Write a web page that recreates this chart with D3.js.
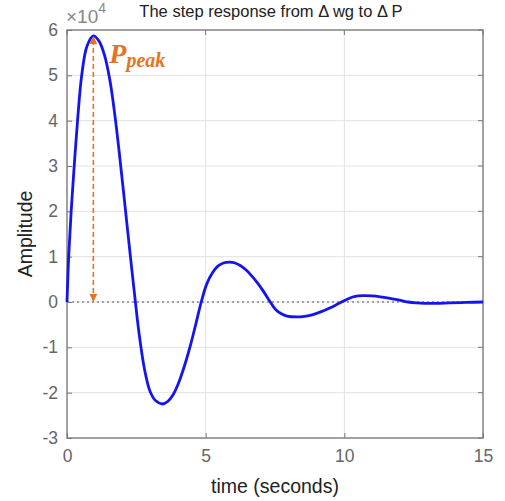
<!DOCTYPE html>
<html>
<head>
<meta charset="utf-8">
<script src="https://cdn.jsdelivr.net/npm/d3@7"></script>
<style>
  html, body { margin: 0; padding: 0; background: #fff; }
  svg { display: block; }
</style>
</head>
<body>
<svg id="chart" width="505" height="501"></svg>
<script>
// ---- data (amplitude in units of 1e4) ----
const timeValues = [0, 0.06, 0.15, 0.26, 0.38, 0.53, 0.72, 0.95, 1.15, 1.35, 1.55, 1.72, 1.88, 2.04, 2.22, 2.43, 2.6, 2.8, 3.0, 3.2, 3.44, 3.64, 3.84, 4.04, 4.24, 4.44, 4.64, 4.84, 5.04, 5.24, 5.44, 5.64, 5.86, 6.06, 6.26, 6.46, 6.66, 6.86, 7.06, 7.33, 7.53, 7.73, 7.93, 8.27, 8.57, 8.87, 9.17, 9.47, 9.77, 9.9, 10.1, 10.3, 10.5, 10.7, 11.0, 11.3, 11.6, 11.9, 12.1, 12.3, 12.6, 12.9, 13.3, 13.8, 14.4, 15];
const amplitudeValues = [0, 1.0, 2.0, 3.0, 4.0, 5.0, 5.64, 5.87, 5.76, 5.45, 4.88, 4.15, 3.32, 2.42, 1.38, 0.2, -0.7, -1.5, -1.98, -2.18, -2.25, -2.19, -2.03, -1.76, -1.4, -0.98, -0.5, 0, 0.4, 0.64, 0.79, 0.86, 0.88, 0.86, 0.8, 0.705, 0.577, 0.427, 0.257, 0, -0.17, -0.26, -0.31, -0.33, -0.316, -0.277, -0.213, -0.134, -0.041, 0, 0.06, 0.11, 0.135, 0.14, 0.135, 0.115, 0.085, 0.05, 0.025, 0, -0.02, -0.03, -0.03, -0.02, -0.01, 0];
const xTicks = [0, 5, 10, 15];
const yTicks = [-3, -2, -1, 0, 1, 2, 3, 4, 5, 6];
const peakTime = 0.95;
const peakValue = 5.87;
const titleText = "The step response from \u0394 wg to \u0394 P";
const xLabelText = "time (seconds)";
const yLabelText = "Amplitude";

// ---- layout ----
const svg = d3.select("#chart");
const L = 67, R = 483, T = 30, B = 438;
const x = d3.scaleLinear().domain([0, 15]).range([L, R]);
const y = d3.scaleLinear().domain([-3, 6]).range([B, T]);

const defs = svg.append("defs");
function arrowMarker(id, orient) {
  defs.append("marker")
    .attr("id", id).attr("viewBox", "0 0 10 10")
    .attr("refX", 9).attr("refY", 5)
    .attr("markerWidth", 8).attr("markerHeight", 8)
    .attr("markerUnits", "userSpaceOnUse")
    .attr("orient", orient)
    .append("path").attr("d", "M0,0 L10,5 L0,10 z").attr("fill", "#E8731F");
}
arrowMarker("arrowEnd", "auto");
arrowMarker("arrowStart", "auto-start-reverse");

// grid
const grid = svg.append("g");
grid.selectAll(".gx").data(xTicks.slice(1, -1)).join("line")
  .attr("x1", d => x(d)).attr("x2", d => x(d)).attr("y1", T).attr("y2", B)
  .attr("stroke", "#e3e3e3").attr("stroke-width", 1);
grid.selectAll(".gy").data(yTicks.slice(1, -1)).join("line")
  .attr("y1", d => y(d)).attr("y2", d => y(d)).attr("x1", L).attr("x2", R)
  .attr("stroke", "#e3e3e3").attr("stroke-width", 1);

// zero dotted line
svg.append("line")
  .attr("x1", L).attr("x2", R).attr("y1", y(0)).attr("y2", y(0))
  .attr("stroke", "#555").attr("stroke-width", 1.2).attr("stroke-dasharray", "2,3");

// axes (ticks inward)
const fontTick = "'Liberation Sans', Arial, sans-serif";
const fmt = d => String(d);
const xAxis = d3.axisBottom(x).tickValues(xTicks).tickSize(-5).tickPadding(12).tickFormat(fmt);
const yAxis = d3.axisLeft(y).tickValues(yTicks).tickSize(-5).tickPadding(9).tickFormat(fmt);
const gx = svg.append("g").attr("transform", `translate(0,${B})`).call(xAxis);
const gy = svg.append("g").attr("transform", `translate(${L},0)`).call(yAxis);
[gx, gy].forEach(g => {
  g.select(".domain").remove();
  g.selectAll(".tick line").attr("stroke", "#777");
  g.selectAll(".tick text").attr("fill", "#666").style("font-family", fontTick).style("font-size", "17.5px");
});
// top/right ticks
svg.append("g").selectAll("line").data(xTicks).join("line")
  .attr("x1", d => x(d)).attr("x2", d => x(d)).attr("y1", T).attr("y2", T + 5).attr("stroke", "#777");
svg.append("g").selectAll("line").data(yTicks).join("line")
  .attr("y1", d => y(d)).attr("y2", d => y(d)).attr("x1", R).attr("x2", R - 5).attr("stroke", "#777");

// box
svg.append("rect").attr("x", L).attr("y", T).attr("width", R - L).attr("height", B - T)
  .attr("fill", "none").attr("stroke", "#7a7a7a").attr("stroke-width", 1.4);

// response curve
const pts = timeValues.map((t, i) => [t, amplitudeValues[i]]);
const line = d3.line().x(d => x(d[0])).y(d => y(d[1])).curve(d3.curveCatmullRom.alpha(0.5));
svg.append("path").datum(pts).attr("d", line)
  .attr("fill", "none").attr("stroke", "#1414f0").attr("stroke-width", 2.8)
  .attr("stroke-linejoin", "round");

// peak annotation
svg.append("line")
  .attr("x1", x(peakTime)).attr("x2", x(peakTime))
  .attr("y1", y(0) - 1).attr("y2", y(peakValue) + 1)
  .attr("stroke", "#E8731F").attr("stroke-width", 1.6).attr("stroke-dasharray", "5,3")
  .attr("marker-start", "url(#arrowStart)").attr("marker-end", "url(#arrowEnd)");
const pt = svg.append("text").attr("x", x(peakTime) + 16).attr("y", 63)
  .attr("fill", "#E8731F").style("font-family", "'Liberation Serif', 'Times New Roman', serif")
  .style("font-style", "italic").style("font-weight", "bold");
pt.append("tspan").text("P").style("font-size", "28px");
pt.append("tspan").text("peak").attr("dy", 4).style("font-size", "20px");

// title & labels
svg.append("text").attr("x", 271).attr("y", 17).attr("text-anchor", "middle")
  .attr("fill", "#222").style("font-family", fontTick).style("font-size", "16.5px").text(titleText);
const exp = svg.append("text").attr("x", 66).attr("y", 23).attr("fill", "#888")
  .style("font-family", fontTick).style("font-size", "19px");
exp.append("tspan").text("\u00d710");
exp.append("tspan").text("4").attr("dy", -10).style("font-size", "14px");

svg.append("text").attr("x", (L + R) / 2).attr("y", 493).attr("text-anchor", "middle")
  .attr("fill", "#222").style("font-family", fontTick).style("font-size", "19.5px").text(xLabelText);
svg.append("text").attr("transform", `translate(32,${(T + B) / 2}) rotate(-90)`).attr("text-anchor", "middle")
  .attr("fill", "#222").style("font-family", fontTick).style("font-size", "19.5px").text(yLabelText);
</script>
</body>
</html>
